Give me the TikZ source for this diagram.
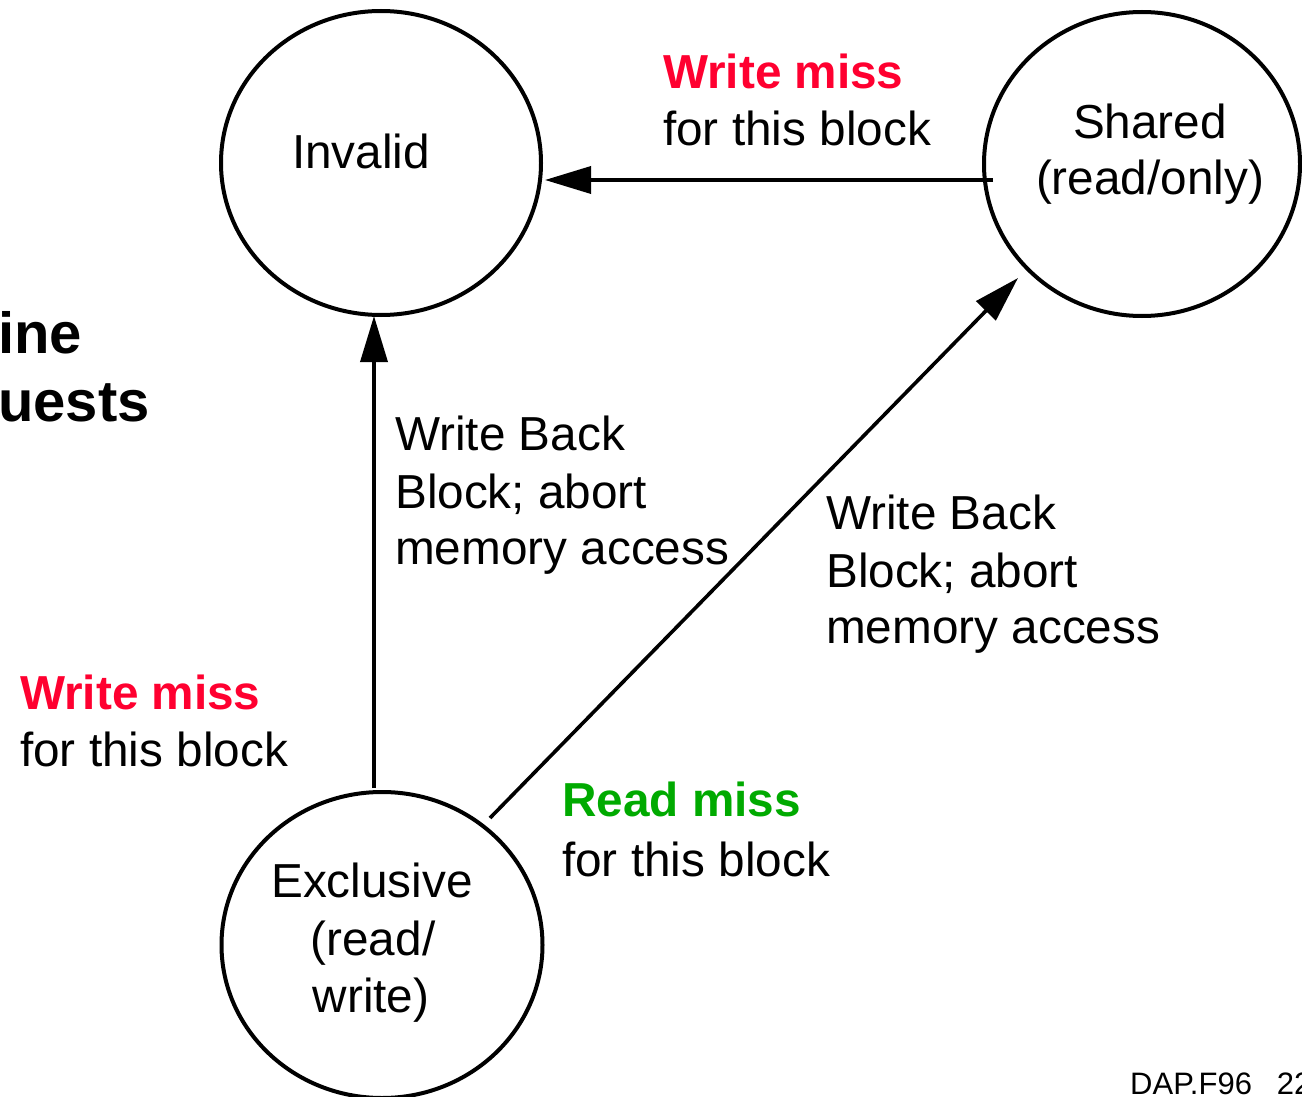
\documentclass[tikz,border=0pt]{standalone}
\usepackage{fontspec}
\setmainfont{Liberation Sans}
\usetikzlibrary{shapes.geometric,arrows.meta}
\definecolor{missred}{RGB}{255,0,48}
\definecolor{missgreen}{RGB}{0,170,0}
\begin{document}
\begin{tikzpicture}[x=1pt,y=-1pt,
  state/.style={draw,ellipse,line width=4pt,inner sep=0pt},
  lbl/.style={anchor=base west,inner sep=0pt,font=\fontsize{47.7}{57}\selectfont},
  blbl/.style={anchor=base west,inner sep=0pt,font=\fontsize{47.7}{57}\selectfont\bfseries},
  ctr/.style={anchor=base,inner sep=0pt,font=\fontsize{47.7}{57}\selectfont},
  big/.style={anchor=base west,inner sep=0pt,font=\fontsize{58}{68}\selectfont\bfseries},
  arr/.style={line width=3.6pt,-{Triangle[length=46pt,width=27pt]}}]
\useasboundingbox (0,0) rectangle (1302,1097);
\fill[white] (0,0) rectangle (1302,1097);
% states
\node[state,minimum width=320pt,minimum height=304pt] (inv) at (381,163) {};
\node[state,minimum width=316pt,minimum height=304pt] (sh) at (1142,164) {};
\node[state,minimum width=321pt,minimum height=306pt] (ex) at (382,945) {};
\node[ctr] (invT) at (361,169) {Invalid};
\node[ctr] (shT1) at (1150,139) {Shared};
\node[ctr] (shT2) at (1150,195) {(read/only)};
\node[ctr] (exT1) at (372,897) {Exclusive};
\node[ctr] (exT2) at (373,955) {(read/};
\node[ctr] (exT3) at (371,1012) {write)};
% arrow endpoints
\coordinate (a1s) at (993,180);
\coordinate (a1e) at (545,180);
\coordinate (a2s) at (374,788);
\coordinate (a2e) at (374,316);
\coordinate (a3s) at (490,818);
\coordinate (a3e) at (1018,278);
\draw[arr] (a1s) -- (a1e);
\draw[arr] (a2s) -- (a2e);
\draw[arr] (a3s) -- (a3e);
% labels
\node[blbl,text=missred] (wm1) at (663,89) {Write miss};
\node[lbl] (fb1) at (663,146) {for this block};
\node[lbl] (wb1a) at (395,450) {Write Back};
\node[lbl] (wb1b) at (395,508) {Block; abort};
\node[lbl] (wb1c) at (395,564) {memory access};
\node[lbl] (wb2a) at (826,529) {Write Back};
\node[lbl] (wb2b) at (826,587) {Block; abort};
\node[lbl] (wb2c) at (826,643) {memory access};
\node[blbl,text=missred] (wm2) at (20,709) {Write miss};
\node[lbl] (fb2) at (20,766) {for this block};
\node[blbl,text=missgreen] (rm) at (562,816) {Read miss};
\node[lbl] (fb3) at (562,876) {for this block};
% cut-off title text
\node[big] (t1) at (-2,353) {ine};
\node[big] (t2) at (-2,421) {uests};
\node[anchor=base west,inner sep=0pt,font=\fontsize{31}{37}\selectfont] (dap) at (1130,1094) {DAP.F96\hspace{0.8em}22};
\end{tikzpicture}
\end{document}
